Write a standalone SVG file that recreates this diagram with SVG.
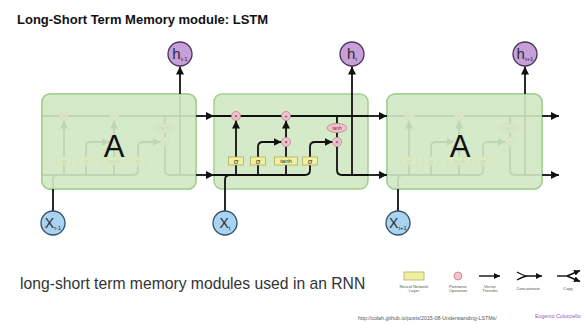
<svg xmlns="http://www.w3.org/2000/svg" width="588" height="324" viewBox="0 0 588 324">
<style>
.box{fill:#d5eac8;stroke:#a3cf91;stroke-width:1.5}
.veil{fill:#d5eac8;fill-opacity:0.9;stroke:#a3cf91;stroke-width:1.5}
.ln{fill:none;stroke:#111;stroke-width:1.8}
.lnt{fill:none;stroke:#111;stroke-width:1.4}
.gate{fill:#eef0a2;stroke:#b2ae5e;stroke-width:0.8}
.pw{fill:#f2c3cf;stroke:#b9808f;stroke-width:0.8}
.gt{font-family:"Liberation Sans",Arial,sans-serif;font-size:7.5px;fill:#333;text-anchor:middle}
.pt{font-family:"Liberation Sans",Arial,sans-serif;font-size:6px;fill:#6a3040;text-anchor:middle}
.hc{fill:#c7a0d8;stroke:#4b3358;stroke-width:1.3}
.xc{fill:#a8d4f2;stroke:#34506b;stroke-width:1.3}
.ct{font-family:"Liberation Sans",Arial,sans-serif;fill:#2a2a35;text-anchor:middle}
.big{font-family:"Liberation Sans",Arial,sans-serif;font-size:31px;fill:#111;text-anchor:middle}
.leg{font-family:"Liberation Sans",Arial,sans-serif;font-size:4.2px;fill:#555;text-anchor:middle}
</style>
<defs>
<marker id="ah" markerUnits="userSpaceOnUse" markerWidth="8" markerHeight="8" refX="8" refY="4" orient="auto"><path d="M0,0 L8,4 L0,8 z" fill="#111"/></marker>
<marker id="as" markerUnits="userSpaceOnUse" markerWidth="6" markerHeight="6" refX="6" refY="3" orient="auto"><path d="M0,0 L6,3 L0,6 z" fill="#111"/></marker>
<g id="cell">
<path class="ln" d="M0 116H154"/>
<path class="ln" d="M0 175H91Q96 175 96 170V165"/>
<path class="ln" d="M96 157V147Q96 142 101 142H118.5" marker-end="url(#ah)"/>
<path class="ln" d="M22 175V165M44 175V165M72 175V165"/>
<path class="ln" d="M22 157V120.5" marker-end="url(#ah)"/>
<path class="ln" d="M44 157V147Q44 142 49 142H67.5" marker-end="url(#ah)"/>
<path class="ln" d="M72 157V146.5"/>
<path class="ln" d="M72 137.5V120.5" marker-end="url(#ah)"/>
<path class="ln" d="M123 116V123.5M123 132.5V137.5"/>
<path class="ln" d="M123 146.5V170Q123 175 128 175H154"/>
<path class="ln" d="M138 175V94"/>
<path class="ln" d="M11 189V180Q11 175 16 175"/>
<rect class="gate" x="14.5" y="157" width="15" height="8"/>
<rect class="gate" x="36.5" y="157" width="15" height="8"/>
<rect class="gate" x="60.5" y="157" width="23" height="8"/>
<rect class="gate" x="88.5" y="157" width="15" height="8"/>
<text class="gt" x="22" y="163.5">σ</text>
<text class="gt" x="44" y="163.5">σ</text>
<text class="gt" x="72" y="163" style="font-size:6px">tanh</text>
<text class="gt" x="96" y="163.5">σ</text>
<circle class="pw" cx="22" cy="116" r="4.5"/>
<circle class="pw" cx="72" cy="116" r="4.5"/>
<circle class="pw" cx="72" cy="142" r="4.5"/>
<circle class="pw" cx="123" cy="142" r="4.5"/>
<ellipse class="pw" cx="123" cy="128" rx="10" ry="4.5"/>
<text class="pt" x="22" y="118">×</text>
<text class="pt" x="72" y="118.2">+</text>
<text class="pt" x="72" y="144">×</text>
<text class="pt" x="123" y="144">×</text>
<text class="pt" x="123" y="130" style="font-size:5px">tanh</text>
</g>
</defs>
<rect x="0" y="0" width="588" height="324" fill="#fff"/>
<text x="17" y="24" font-family="Liberation Sans, Arial, sans-serif" font-size="13" font-weight="bold" fill="#111">Long-Short Term Memory module: LSTM</text>

<g id="cell-left">
<rect class="box" x="42" y="94" width="154" height="95" rx="8"/>
<use href="#cell" x="42"/>
<rect class="veil" x="42" y="94" width="154" height="95" rx="8"/>
<text class="big" x="114" y="157">A</text>
</g>
<g id="cell-mid">
<rect class="box" x="214" y="94" width="154" height="95" rx="8"/>
<use href="#cell" x="214"/>
</g>
<g id="cell-right">
<rect class="box" x="387" y="94" width="155" height="95" rx="8"/>
<use href="#cell" x="387"/>
<rect class="veil" x="387" y="94" width="155" height="95" rx="8"/>
<text class="big" x="460" y="157">A</text>
</g>

<g id="connectors">
<path class="ln" d="M196 116H214" marker-end="url(#ah)"/>
<path class="ln" d="M196 175H214" marker-end="url(#ah)"/>
<path class="ln" d="M368 116H387" marker-end="url(#ah)"/>
<path class="ln" d="M368 175H387" marker-end="url(#ah)"/>
<path class="ln" d="M542 116H559" marker-end="url(#ah)"/>
<path class="ln" d="M542 175H559" marker-end="url(#ah)"/>
<path class="ln" d="M180 94V66.5" marker-end="url(#ah)"/>
<path class="ln" d="M352 94V66.5" marker-end="url(#ah)"/>
<path class="ln" d="M525 94V66.5" marker-end="url(#ah)"/>
<path class="ln" d="M53 189V211"/>
<path class="ln" d="M225 189V211"/>
<path class="ln" d="M398 189V211"/>
</g>

<g id="h-left"><circle class="hc" cx="180" cy="54" r="12"/><text class="ct" x="180" y="59" font-size="15">h<tspan font-size="6" dy="2">t-1</tspan></text></g>
<g id="h-mid"><circle class="hc" cx="352" cy="54" r="12"/><text class="ct" x="352" y="59" font-size="15">h<tspan font-size="6" dy="2">t</tspan></text></g>
<g id="h-right"><circle class="hc" cx="525" cy="54" r="12"/><text class="ct" x="525" y="59" font-size="15">h<tspan font-size="6" dy="2">t+1</tspan></text></g>
<g id="x-left"><circle class="xc" cx="53" cy="223" r="12"/><text class="ct" x="53" y="228" font-size="14">X<tspan font-size="6" dy="2">t-1</tspan></text></g>
<g id="x-mid"><circle class="xc" cx="225" cy="223" r="12"/><text class="ct" x="225" y="228" font-size="14">X<tspan font-size="6" dy="2">t</tspan></text></g>
<g id="x-right"><circle class="xc" cx="398" cy="223" r="12"/><text class="ct" x="398" y="228" font-size="14">X<tspan font-size="6" dy="2">t+1</tspan></text></g>

<text x="20" y="289" font-family="Liberation Sans, Arial, sans-serif" font-size="15.7" fill="#333">long-short term memory modules used in an RNN</text>

<g id="legend">
<rect class="gate" x="404" y="272" width="20" height="8"/>
<circle class="pw" cx="458" cy="276" r="4"/>
<path class="lnt" d="M479 276H500" marker-end="url(#as)"/>
<path class="lnt" d="M517 272Q524 276 528 276Q524 276 517 280M528 276H542" marker-end="url(#as)"/>
<path class="lnt" d="M557 276H567"/>
<path class="lnt" d="M567 276L580 270.5" marker-end="url(#as)"/>
<path class="lnt" d="M567 276L580 281.5" marker-end="url(#as)"/>
<text class="leg" x="414" y="287.5">Neural Network<tspan x="414" dy="4.5">Layer</tspan></text>
<text class="leg" x="458" y="287.5">Pointwise<tspan x="458" dy="4.5">Operation</tspan></text>
<text class="leg" x="490" y="287.5">Vector<tspan x="490" dy="4.5">Transfer</tspan></text>
<text class="leg" x="528" y="289.5">Concatenate</text>
<text class="leg" x="568" y="289.5">Copy</text>
</g>
<text x="358" y="320" font-family="Liberation Sans, Arial, sans-serif" font-size="5.3" fill="#555">http://colah.github.io/posts/2015-08-Understanding-LSTMs/</text>
<text x="535" y="318" font-family="Liberation Sans, Arial, sans-serif" font-size="5.3" fill="#8a5cc4">Eugenio Culurciello</text>
</svg>
